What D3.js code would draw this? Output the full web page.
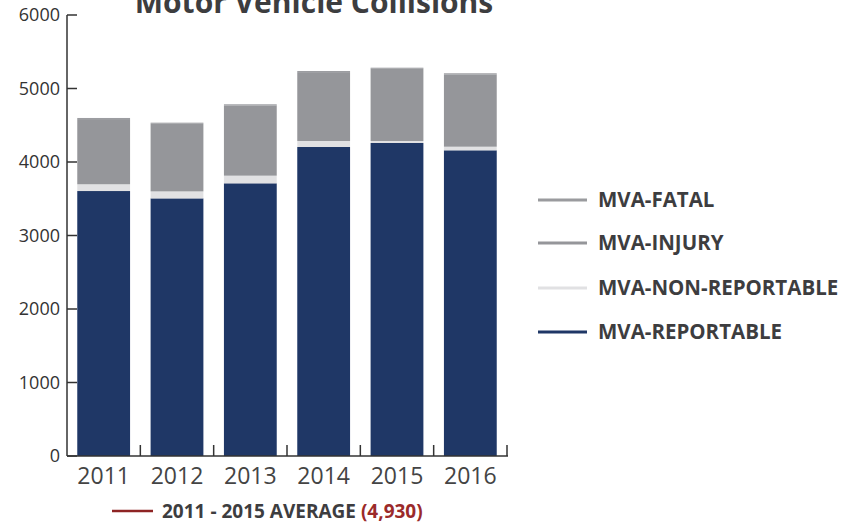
<!DOCTYPE html>
<html>
<head>
<meta charset="utf-8">
<script src="https://cdn.jsdelivr.net/npm/d3@7"></script>
<style>
  body { margin: 0; background: #fff; }
  svg { display: block; font-family: "Open Sans", sans-serif; }
</style>
</head>
<body>
<svg id="chart" width="851" height="524"></svg>
<script>
// values
var years = ['2011', '2012', '2013', '2014', '2015', '2016'];
var reportable = [3605, 3505, 3710, 4204, 4259, 4159];
var nonReportable = [92, 95, 104, 82, 27, 49];
var injury = [887, 920, 956, 937, 982, 984];
var fatal = [15, 15, 15, 15, 15, 15];
var yTicks = [0, 1000, 2000, 3000, 4000, 5000, 6000];

var seriesNames = ['MVA-REPORTABLE', 'MVA-NON-REPORTABLE', 'MVA-INJURY', 'MVA-FATAL'];
var colors = {'MVA-REPORTABLE': '#1f3766', 'MVA-NON-REPORTABLE': '#e1e1e3', 'MVA-INJURY': '#95969a', 'MVA-FATAL': '#9c9da1'};
var legendOrder = ['MVA-FATAL', 'MVA-INJURY', 'MVA-NON-REPORTABLE', 'MVA-REPORTABLE'];
var legendColors = {'MVA-FATAL': '#9a9b9e', 'MVA-INJURY': '#95969a', 'MVA-NON-REPORTABLE': '#e1e1e3', 'MVA-REPORTABLE': '#1f3766'};

var svg = d3.select('#chart');

// build table for stack
var table = years.map(function(y, i) {
    var row = {year: y};
    row['MVA-REPORTABLE'] = reportable[i];
    row['MVA-NON-REPORTABLE'] = nonReportable[i];
    row['MVA-INJURY'] = injury[i];
    row['MVA-FATAL'] = fatal[i];
    return row;
});

var x = d3.scaleBand()
    .domain(years)
    .range([67, 507])
    .paddingInner(0.28)
    .paddingOuter(0.14);

var y = d3.scaleLinear()
    .domain([0, 6000])
    .range([456, 15]);

var stacked = d3.stack().keys(seriesNames)(table);

// bars
svg.append('g')
    .selectAll('g')
    .data(stacked)
    .enter()
    .append('g')
    .attr('fill', function(d) { return colors[d.key]; })
    .selectAll('rect')
    .data(function(d) { return d; })
    .enter()
    .append('rect')
    .attr('x', function(d) { return x(d.data.year); })
    .attr('y', function(d) { return y(d[1]); })
    .attr('width', x.bandwidth())
    .attr('height', function(d) { return y(d[0]) - y(d[1]); });

// title (partly cut off at the top, as in the original)
svg.append('text')
    .attr('x', 314)
    .attr('y', 13)
    .attr('text-anchor', 'middle')
    .attr('font-size', 30)
    .attr('font-weight', 700)
    .attr('fill', '#3d3d3f')
    .text('Motor Vehicle Collisions');

// y axis
var yAxis = svg.append('g').attr('transform', 'translate(67,0)');
yAxis.append('line')
    .attr('x1', 0).attr('x2', 0)
    .attr('y1', y(6000)).attr('y2', y(0))
    .attr('stroke', '#333').attr('stroke-width', 1.5);
yAxis.selectAll('.tick')
    .data(yTicks)
    .enter()
    .append('line')
    .attr('x1', 0).attr('x2', 10)
    .attr('y1', function(d) { return y(d); })
    .attr('y2', function(d) { return y(d); })
    .attr('stroke', '#333').attr('stroke-width', 1.5);
yAxis.selectAll('.lbl')
    .data(yTicks)
    .enter()
    .append('text')
    .attr('x', -7)
    .attr('y', function(d) { return y(d); })
    .attr('dy', '0.36em')
    .attr('text-anchor', 'end')
    .attr('font-size', 18)
    .attr('fill', '#333')
    .text(function(d) { return d; });

// x axis with ticks at band edges
var xAxis = svg.append('g');
xAxis.append('line')
    .attr('x1', 67).attr('x2', 508)
    .attr('y1', y(0)).attr('y2', y(0))
    .attr('stroke', '#333').attr('stroke-width', 1.5);
xAxis.selectAll('.tick')
    .data(years)
    .enter()
    .append('line')
    .attr('x1', function(d) { return x(d) - x.step() * 0.14 + x.step(); })
    .attr('x2', function(d) { return x(d) - x.step() * 0.14 + x.step(); })
    .attr('y1', y(0)).attr('y2', y(0) - 11)
    .attr('stroke', '#333').attr('stroke-width', 1.5);
xAxis.selectAll('.lbl')
    .data(years)
    .enter()
    .append('text')
    .attr('x', function(d) { return x(d) + x.bandwidth() / 2; })
    .attr('y', 484)
    .attr('text-anchor', 'middle')
    .attr('font-size', 23)
    .attr('fill', '#444')
    .text(function(d) { return d; });

// legend on the right
var legend = svg.append('g');
var rowsY = [200, 243, 288, 332];
var lg = legend.selectAll('g')
    .data(legendOrder)
    .enter()
    .append('g')
    .attr('transform', function(d, i) { return 'translate(538,' + rowsY[i] + ')'; });
lg.append('line')
    .attr('x1', 0).attr('x2', 49)
    .attr('y1', 0).attr('y2', 0)
    .attr('stroke', function(d) { return legendColors[d]; })
    .attr('stroke-width', 3);
lg.append('text')
    .attr('x', 60)
    .attr('y', 0)
    .attr('dy', '0.36em')
    .attr('font-size', 20.5)
    .attr('font-weight', 700)
    .attr('fill', '#3d3d3f')
    .text(function(d) { return d; });

// average legend at the bottom
var avg = svg.append('g');
avg.append('line')
    .attr('x1', 112).attr('x2', 153)
    .attr('y1', 511).attr('y2', 511)
    .attr('stroke', '#8e2424').attr('stroke-width', 2.5);
var avgText = avg.append('text')
    .attr('x', 162)
    .attr('y', 511)
    .attr('dy', '0.36em')
    .attr('font-size', 19)
    .attr('font-weight', 700)
    .attr('fill', '#3d3d3f');
avgText.append('tspan').text('2011 - 2015 AVERAGE ');
avgText.append('tspan').attr('fill', '#9b2a2a').text('(4,930)');
</script>
</body>
</html>
